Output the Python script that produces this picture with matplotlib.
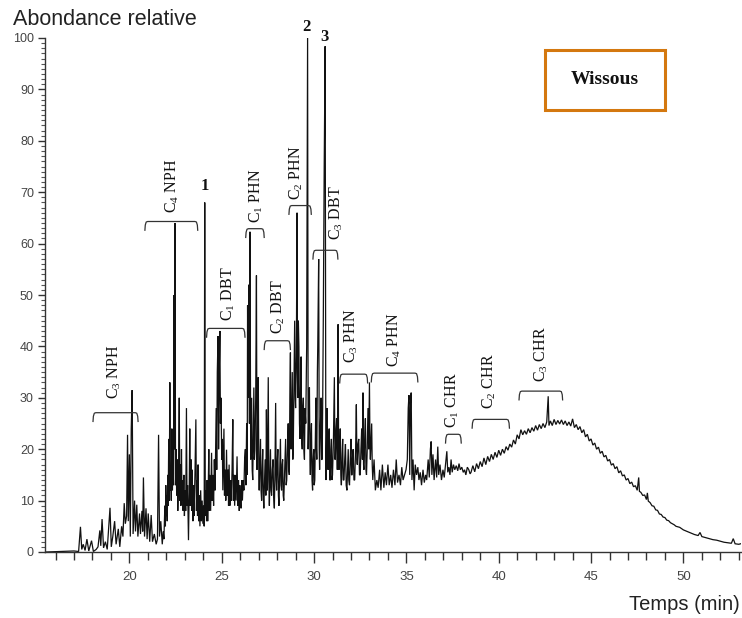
import matplotlib
matplotlib.use("Agg")
import matplotlib.pyplot as plt
import numpy as np
from matplotlib.ticker import MultipleLocator
from matplotlib.patches import Rectangle

# ---------------- data ----------------
early_time = [15.5, 17.0, 17.25, 17.35, 17.42, 17.5, 17.6, 17.7, 17.8, 17.95,
              18.05, 18.2, 18.3, 18.4, 18.45, 18.52, 18.6, 18.7, 18.8, 18.95,
              19.02, 19.1, 19.2, 19.28, 19.4, 19.48, 19.58, 19.65, 19.72, 19.78,
              19.85, 19.9, 19.94, 20.0, 20.05, 20.1, 20.15, 20.2, 20.28, 20.33,
              20.4, 20.46, 20.55, 20.6, 20.68, 20.72, 20.76, 20.82, 20.9, 20.96,
              21.02, 21.1, 21.18, 21.25, 21.35, 21.45, 21.52, 21.58, 21.63, 21.7]
early_abund = [0.0, 0.2, 0.1, 4.9, 0.5, 1.5, 0.3, 2.5, 0.2, 2.2,
               0.1, 0.5, 1.0, 4.2, 1.2, 6.4, 0.8, 2.0, 0.5, 8.6,
               1.0, 3.0, 6.0, 1.5, 4.5, 1.0, 5.0, 3.0, 9.5, 5.5,
               7.0, 22.8, 6.0, 19.0, 3.0, 24.0, 31.5, 3.5, 10.0, 4.0,
               9.2, 3.0, 7.5, 3.5, 8.0, 4.0, 14.5, 3.0, 8.5, 2.5,
               7.5, 2.0, 7.2, 2.0, 3.5, 1.5, 2.5, 22.8, 3.0, 6.0]

npH_time = [21.78, 21.83, 21.87, 21.92, 21.95, 21.97, 22.0, 22.02, 22.05, 22.08,
            22.1, 22.13, 22.16, 22.19, 22.22, 22.24, 22.27, 22.3, 22.33, 22.36,
            22.39, 22.42, 22.44, 22.47, 22.5, 22.53, 22.56, 22.59, 22.62, 22.66,
            22.7, 22.73, 22.76, 22.79, 22.82, 22.85, 22.88, 22.91, 22.95, 22.98,
            23.02, 23.05, 23.09, 23.12, 23.15, 23.2, 23.24, 23.27, 23.3, 23.34,
            23.37, 23.4, 23.44, 23.47, 23.5, 23.55, 23.6, 23.63, 23.66, 23.69,
            23.72, 23.75, 23.78, 23.82, 23.86, 23.9, 23.94, 23.98, 24.02, 24.05,
            24.08]
npH_abund = [1.5, 4.0, 2.5, 9.0, 5.0, 13.0, 7.0, 11.0, 6.0, 15.0,
             9.0, 22.0, 10.0, 33.0, 12.0, 16.0, 10.0, 24.0, 12.0, 18.0,
             13.0, 50.0, 20.0, 64.0, 13.0, 20.0, 11.0, 18.0, 8.0, 14.0,
             30.0, 10.0, 17.0, 9.0, 20.0, 10.0, 14.0, 8.0, 15.0, 7.0,
             12.0, 8.0, 28.0, 9.0, 13.0, 2.3, 12.0, 24.0, 9.0, 18.0,
             8.0, 16.0, 6.0, 13.0, 7.0, 15.0, 25.8, 8.0, 14.0, 7.0,
             17.0, 6.0, 11.0, 5.0, 12.0, 6.0, 10.0, 5.5, 9.0, 5.0,
             68.0]

dbt1_time = [24.11, 24.14, 24.18, 24.21, 24.24, 24.27, 24.3, 24.33, 24.36, 24.4,
             24.45, 24.48, 24.52, 24.56, 24.6, 24.64, 24.7, 24.73, 24.76, 24.8,
             24.83, 24.87, 24.9, 24.93, 24.96, 25.0, 25.03, 25.06, 25.09, 25.12,
             25.15, 25.18, 25.22, 25.26, 25.3, 25.34, 25.37, 25.4, 25.44, 25.48,
             25.52, 25.56, 25.6, 25.63, 25.67, 25.7, 25.74, 25.78, 25.83, 25.87,
             25.91, 25.95, 25.98, 26.02, 26.05, 26.09, 26.12, 26.16, 26.2, 26.24,
             26.28, 26.31, 26.35, 26.38, 26.4, 26.42, 26.45, 26.47, 26.5, 26.53]
dbt1_abund = [7.0, 12.0, 6.0, 14.0, 6.0, 12.0, 20.0, 8.0, 15.0, 8.0,
              19.3, 10.0, 15.0, 9.0, 18.0, 12.0, 28.0, 16.0, 35.0, 42.0,
              20.0, 36.0, 43.0, 25.0, 30.0, 18.0, 22.0, 12.0, 18.0, 24.0,
              11.0, 16.0, 10.0, 19.9, 11.0, 16.0, 9.0, 17.0, 9.0, 14.0,
              10.0, 16.0, 25.8, 10.0, 15.0, 9.0, 15.0, 10.0, 18.6, 9.0,
              14.0, 8.0, 13.0, 9.0, 8.5, 14.0, 10.0, 14.0, 12.0, 18.0,
              20.0, 13.0, 25.0, 15.0, 48.0, 30.0, 40.0, 52.0, 25.0, 62.3]

phn1_time = [26.57, 26.6, 26.62, 26.65, 26.68, 26.71, 26.74, 26.77, 26.8, 26.84,
             26.88, 26.91, 26.95, 26.98, 27.01, 27.03, 27.07, 27.1, 27.13, 27.16,
             27.19, 27.22, 27.25, 27.28, 27.32, 27.35, 27.39, 27.42, 27.45, 27.47,
             27.5, 27.52, 27.55, 27.58, 27.61, 27.64, 27.67, 27.7, 27.74, 27.78,
             27.81, 27.85, 27.88, 27.92, 27.95, 27.97, 28.0, 28.04, 28.07, 28.1,
             28.14, 28.18, 28.21, 28.24, 28.27, 28.3, 28.33, 28.36, 28.41, 28.46,
             28.49, 28.52, 28.56, 28.6, 28.63, 28.66, 28.69, 28.72, 28.74, 28.76,
             28.79, 28.82, 28.85, 28.88, 28.92, 28.95, 28.98, 29.0, 29.04]
phn1_abund = [18.0, 26.0, 30.0, 16.0, 14.0, 24.0, 32.0, 18.0, 20.0, 30.0,
              53.8, 16.0, 28.0, 34.0, 15.0, 12.0, 18.0, 22.0, 12.0, 10.0,
              16.0, 20.0, 11.0, 8.5, 14.0, 18.0, 11.0, 27.7, 15.0, 12.0,
              24.0, 34.0, 14.0, 9.0, 15.0, 20.0, 12.0, 11.0, 16.0, 18.0,
              11.0, 8.5, 15.0, 29.0, 14.0, 12.0, 17.0, 20.0, 11.0, 9.0,
              16.0, 22.0, 13.0, 12.0, 17.0, 18.0, 11.0, 10.0, 16.0, 22.0,
              13.0, 14.0, 20.0, 25.0, 16.0, 15.0, 30.0, 38.8, 22.0, 20.0,
              28.0, 35.0, 18.0, 22.0, 35.0, 45.0, 30.0, 28.0, 38.0]

phn2_time = [29.08, 29.1, 29.12, 29.15, 29.18, 29.21, 29.24, 29.27, 29.3, 29.33,
             29.36, 29.39, 29.42, 29.45, 29.48, 29.51, 29.55, 29.58, 29.6, 29.65,
             29.68, 29.71, 29.75, 29.78, 29.8, 29.83, 29.86, 29.89, 29.92, 29.95,
             29.98, 30.01, 30.04, 30.07, 30.1, 30.13, 30.15, 30.18, 30.2, 30.25,
             30.28, 30.3, 30.34, 30.38, 30.41, 30.44, 30.47, 30.5, 30.55, 30.6,
             30.64, 30.67, 30.7, 30.73, 30.76, 30.79, 30.82, 30.85, 30.88, 30.91,
             30.94, 30.97, 31.0, 31.05, 31.1, 31.13, 31.15, 31.19, 31.22, 31.26,
             31.3, 31.33, 31.35, 31.39, 31.42, 31.45, 31.48, 31.52, 31.55, 31.58,
             31.62, 31.66, 31.7, 31.74, 31.78, 31.82, 31.85, 31.88, 31.92, 31.96,
             32.0, 32.03, 32.06, 32.09, 32.12, 32.16, 32.2, 32.25, 32.29, 32.32,
             32.34, 32.38, 32.42, 32.46, 32.5, 32.54, 32.58, 32.62, 32.65, 32.68,
             32.7, 32.74, 32.78, 32.81, 32.84, 32.88, 32.92, 32.96, 33.0, 33.03,
             33.05, 33.09, 33.12, 33.15, 33.18]
phn2_abund = [66.0, 35.0, 30.0, 45.0, 40.0, 25.0, 22.0, 32.0, 38.0, 22.0,
              20.0, 28.0, 30.0, 20.0, 18.0, 28.0, 25.0, 35.0, 40.0, 100.0,
              20.0, 26.0, 32.0, 18.0, 15.0, 22.0, 25.0, 14.0, 12.0, 18.0,
              20.0, 13.0, 14.0, 22.0, 30.0, 20.0, 18.0, 35.0, 40.0, 57.0,
              20.0, 16.0, 24.0, 30.0, 18.0, 18.0, 30.0, 45.0, 75.0, 98.4,
              14.0, 20.0, 28.0, 17.0, 16.0, 22.0, 24.0, 14.0, 14.0, 20.0,
              22.0, 14.0, 15.0, 22.0, 34.0, 18.0, 18.0, 24.0, 26.0, 16.0,
              44.3, 20.0, 16.0, 20.0, 24.0, 15.0, 13.0, 19.0, 22.0, 14.0,
              14.0, 18.0, 21.0, 13.0, 12.0, 17.0, 20.0, 14.0, 13.0, 18.0,
              22.0, 15.0, 15.0, 19.0, 20.0, 14.0, 14.0, 20.0, 28.7, 18.0,
              17.0, 21.0, 22.0, 15.0, 15.0, 20.0, 24.0, 18.0, 31.0, 17.0,
              16.0, 22.0, 26.0, 16.0, 15.0, 20.0, 28.0, 20.0, 33.0, 20.0,
              18.0, 22.0, 25.0, 17.0, 14.0]

tail_time = [33.25, 33.32, 33.4, 33.47, 33.55, 33.62, 33.7, 33.78, 33.85, 33.92,
             34.0, 34.07, 34.15, 34.22, 34.3, 34.38, 34.45, 34.52, 34.6, 34.68,
             34.75, 34.82, 34.9, 34.98, 35.05, 35.1, 35.14, 35.18, 35.22, 35.26,
             35.3, 35.36, 35.42, 35.48, 35.55, 35.62, 35.68, 35.75, 35.82, 35.9,
             35.97, 36.04, 36.1, 36.18, 36.24, 36.3, 36.34, 36.38, 36.44, 36.5,
             36.58, 36.64, 36.7, 36.75, 36.82, 36.9, 36.98, 37.05, 37.12, 37.19,
             37.24, 37.3, 37.36, 37.42, 37.48, 37.55, 37.62, 37.7, 37.78, 37.85,
             37.92, 38.0, 38.08, 38.15, 38.22, 38.3, 38.38, 38.45]
tail_abund = [18.0, 12.0, 14.0, 12.5, 16.0, 12.0, 17.0, 12.5, 15.5, 13.0,
              17.0, 13.0, 15.0, 12.5, 16.0, 13.0, 18.0, 13.5, 15.0, 13.0,
              16.5, 14.0, 15.0, 16.0, 18.0, 28.0, 30.5, 15.0, 29.0, 31.0,
              14.0, 18.0, 12.0, 17.0, 15.0, 16.5, 14.0, 15.5, 13.0, 16.0,
              13.5, 15.0, 14.0, 18.0, 14.5, 20.0, 21.5, 15.0, 19.0, 14.0,
              18.0, 14.5, 20.5, 15.0, 17.0, 14.0, 16.0, 14.5, 17.0, 19.6,
              15.5, 16.5, 15.0, 18.0, 15.5, 17.0, 16.0, 16.8, 15.8, 17.2,
              16.0, 16.5, 15.5, 16.0, 15.0, 16.5, 16.0, 15.2]

hump_time = [38.5, 38.6, 38.7, 38.8, 38.9, 39.0, 39.1, 39.2, 39.3, 39.4,
             39.5, 39.6, 39.7, 39.8, 39.9, 40.0, 40.1, 40.2, 40.3, 40.4,
             40.5, 40.6, 40.7, 40.8, 40.9, 41.0, 41.1, 41.2, 41.3, 41.4,
             41.5, 41.6, 41.7, 41.8, 41.9, 42.0, 42.1, 42.2, 42.3, 42.4,
             42.5, 42.6, 42.68, 42.72, 42.8, 42.9, 43.0, 43.1, 43.2, 43.3,
             43.4, 43.5, 43.6, 43.7, 43.8, 43.9, 44.0, 44.1, 44.2, 44.3,
             44.4, 44.5, 44.6, 44.7, 44.8, 44.9, 45.0, 45.1, 45.2, 45.3,
             45.4, 45.5, 45.6, 45.7, 45.8, 45.9, 46.0, 46.1, 46.2, 46.3,
             46.4, 46.5, 46.6, 46.7, 46.8, 46.9, 47.0, 47.1, 47.2, 47.3,
             47.4, 47.5, 47.58, 47.62, 47.7, 47.8, 47.9, 48.0, 48.05, 48.1,
             48.2, 48.3, 48.4, 48.5, 48.6, 48.7, 48.8, 48.9, 49.0, 49.1,
             49.2, 49.3, 49.5, 49.6, 49.8, 50.0, 50.2, 50.4, 50.6, 50.8,
             50.9, 51.0, 51.2, 51.4, 51.6, 51.8, 52.0, 52.2, 52.4, 52.6,
             52.7, 52.8, 53.0, 53.1]
hump_abund = [15.5, 16.8, 15.6, 17.2, 16.2, 17.6, 16.6, 18.3, 17.0, 18.6,
              17.6, 19.0, 18.0, 19.4, 18.4, 19.8, 18.8, 20.0, 19.2, 20.5,
              19.8, 21.0, 20.4, 21.8, 21.0, 22.8, 22.0, 23.8, 22.8, 23.6,
              22.9, 24.0, 23.2, 24.2, 23.5, 24.6, 23.7, 24.8, 24.0, 25.0,
              24.2, 25.3, 30.3, 24.6, 25.5, 24.6, 25.8, 24.8, 25.6, 24.9,
              25.7, 24.8, 25.5, 24.6, 25.3, 24.5, 25.9, 24.2, 24.8, 23.8,
              24.4, 23.2, 23.8, 22.4, 22.9, 21.6, 22.0, 20.8, 21.2, 20.0,
              20.4, 19.2, 19.6, 18.5, 18.8, 17.7, 18.0, 16.9, 17.2, 16.2,
              16.6, 15.4, 15.8, 14.8, 15.0, 14.0, 14.3, 13.3, 13.6, 12.7,
              12.9, 12.0, 14.5, 11.8, 11.6, 11.0, 11.1, 10.2, 11.5, 9.9,
              9.6, 9.0, 8.9, 8.2, 8.1, 7.4, 7.3, 6.8, 6.7, 6.2,
              6.1, 5.7, 5.3, 5.0, 4.8, 4.3, 4.0, 3.7, 3.4, 3.2,
              3.8, 3.0, 2.8, 2.6, 2.4, 2.3, 2.1, 1.9, 1.8, 1.7,
              2.6, 1.6, 1.5, 1.6]

# compound-group annotations: label, bracket start/end (min), bracket level
group_labels = [r"C$_3$ NPH", r"C$_4$ NPH", r"C$_1$ DBT", r"C$_1$ PHN", r"C$_2$ DBT",
                r"C$_2$ PHN", r"C$_3$ DBT", r"C$_3$ PHN", r"C$_4$ PHN",
                r"C$_1$ CHR", r"C$_2$ CHR", r"C$_3$ CHR"]
group_start = [18.03, 20.84, 24.18, 26.30, 27.30, 28.64, 29.94, 31.39, 33.10, 37.12, 38.56, 41.10]
group_end = [20.47, 23.70, 26.26, 27.30, 28.72, 29.85, 31.29, 32.90, 35.62, 37.97, 40.58, 43.46]
group_level = [27.1, 64.3, 43.5, 62.9, 41.1, 67.4, 58.7, 34.6, 34.8, 22.9, 25.8, 31.3]
group_label_time = [19.19, 22.30, 25.34, 26.88, 28.07, 29.04, 31.20, 32.02, 34.36, 37.50, 39.50, 42.30]
group_label_base = [29.8, 66.0, 45.0, 64.0, 42.4, 68.5, 60.7, 36.8, 36.0, 24.2, 27.8, 33.0]

peak_ids = ["1", "2", "3"]
peak_id_time = [24.08, 29.58, 30.57]
peak_id_level = [71.3, 102.1, 100.2]

xlim = (15.43, 53.12)
ylim = (0, 100)

# ---------------- figure ----------------
plt.rcParams["font.family"] = ["Liberation Sans", "DejaVu Sans"]
plt.rcParams["mathtext.fontset"] = "custom"
plt.rcParams["mathtext.rm"] = "Liberation Serif"
plt.rcParams["mathtext.it"] = "Liberation Serif:italic"
plt.rcParams["mathtext.bf"] = "Liberation Serif:bold"

W, H = 742, 618
fig = plt.figure(figsize=(W / 100, H / 100), dpi=100)
ax = fig.add_axes([45 / W, (H - 552) / H, (741 - 45) / W, (552 - 38) / H])

t = np.concatenate([early_time, npH_time, dbt1_time, phn1_time, phn2_time,
                    tail_time, hump_time])
a = np.concatenate([early_abund, npH_abund, dbt1_abund, phn1_abund, phn2_abund,
                    tail_abund, hump_abund])
ax.plot(t, a, color="#111111", lw=0.9, solid_joinstyle="miter")

ax.set_xlim(*xlim)
ax.set_ylim(*ylim)
for s in ("top", "right"):
    ax.spines[s].set_visible(False)
for s in ("left", "bottom"):
    ax.spines[s].set_color("#333333")
    ax.spines[s].set_linewidth(1.0)

ax.xaxis.set_major_locator(MultipleLocator(5))
ax.xaxis.set_minor_locator(MultipleLocator(1))
ax.yaxis.set_major_locator(MultipleLocator(10))
ax.yaxis.set_minor_locator(MultipleLocator(1))
ax.tick_params(axis="x", which="major", length=8, width=1, color="#333333",
               labelsize=9.5, labelcolor="#444444", pad=6)
ax.tick_params(axis="x", which="minor", length=6, width=1, color="#333333")
ax.tick_params(axis="y", which="major", length=5, width=1, color="#333333",
               labelsize=9, labelcolor="#444444", pad=3)
ax.tick_params(axis="y", which="minor", length=3, width=0.8, color="#555555")

serif = ["Liberation Serif", "DejaVu Serif"]
for lab, t0, t1, lev, lt, lb in zip(group_labels, group_start, group_end,
                                     group_level, group_label_time, group_label_base):
    hook = 1.7
    bx = [t0, t0 + 0.02, t0 + 0.07, t0 + 0.15, t1 - 0.15, t1 - 0.07, t1 - 0.02, t1]
    by = [lev - hook, lev - 0.7, lev - 0.1, lev, lev, lev - 0.1, lev - 0.7, lev - hook]
    ax.plot(bx, by, color="#333333", lw=0.9)
    ax.text(lt, lb, lab, rotation=90, ha="center", va="bottom",
            fontsize=11.5, family=serif, color="#111111")

for pid, pt, pl in zip(peak_ids, peak_id_time, peak_id_level):
    ax.text(pt, pl, pid, ha="center", va="center", fontsize=12,
            fontweight="bold", family=serif, color="#111111", clip_on=False)

fig.text(12.7 / W, 1 - 25 / H, "Abondance relative", fontsize=15.5,
         ha="left", va="baseline", color="#222222")
fig.text(740 / W, 1 - 610.5 / H, "Temps (min)", fontsize=14.5,
         ha="right", va="baseline", color="#222222")

fig.patches.append(Rectangle((545 / W, 1 - 110 / H), 120 / W, 60 / H,
                             transform=fig.transFigure, facecolor="white",
                             edgecolor="#D4780F", lw=2.2, zorder=5))
fig.text(605 / W, 1 - 80 / H, "Wissous", fontsize=14, fontweight="bold",
         family=serif, ha="center", va="center", zorder=6, color="#111111")

fig.savefig("out.png", dpi=100)
